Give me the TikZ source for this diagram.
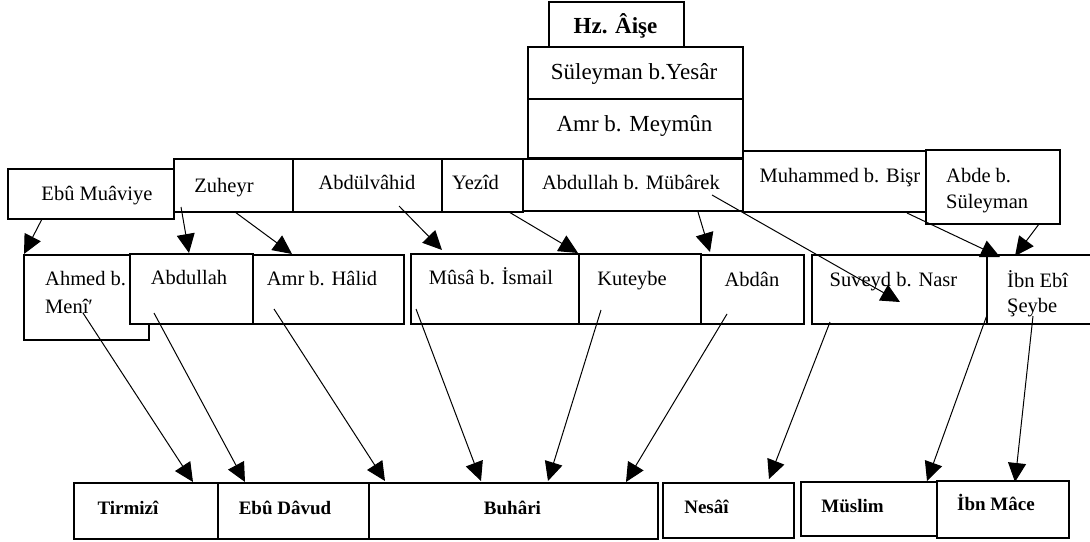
\documentclass[tikz,border=0pt]{standalone}
\usepackage{fontspec}
\setmainfont{Liberation Serif}
\usetikzlibrary{arrows.meta}
\tikzset{
  box/.style={draw, line width=1.8pt, fill=white, inner sep=0pt, anchor=north west},
  lbl/.style={inner sep=0pt, anchor=base, font=\fontsize{20.5}{27}\selectfont},
  lblL/.style={inner sep=0pt, anchor=base west, align=left},
  big/.style={inner sep=0pt, anchor=base, font=\fontsize{23}{28}\selectfont},
  bigb/.style={inner sep=0pt, anchor=base, font=\bfseries\fontsize{23}{28}\selectfont},
  bot/.style={inner sep=0pt, anchor=base, font=\bfseries\fontsize{19}{23}\selectfont},
  arr/.style={-{Triangle[length=19pt,width=18pt]}, line width=1pt},
}
\begin{document}
\begin{tikzpicture}[x=1pt,y=-1pt]
\useasboundingbox[fill=white] (0,0) rectangle (1090,541);

% top chain
\node[box, minimum width=135pt, minimum height=45pt] (hz) at (548,1) {};
\node[box, minimum width=215pt, minimum height=52pt] (suleyman) at (527,46) {};
\node[box, minimum width=215pt, minimum height=59pt] (amrm) at (527,98) {};

% row 2
\node[box, minimum width=166pt, minimum height=50pt] (ebu) at (7,168) {};
\node[box, minimum width=119pt, minimum height=53pt] (zuheyr) at (173,158) {};
\node[box, minimum width=149pt, minimum height=53pt] (abdulvahid) at (292,158) {};
\node[box, minimum width=81pt, minimum height=53pt] (yezid) at (441,158) {};
\node[box, minimum width=220pt, minimum height=52pt] (abdmub) at (522,158) {};
\node[box, minimum width=183pt, minimum height=61pt] (muhammed) at (742,150) {};
\node[box, minimum width=134pt, minimum height=74pt] (abde) at (925,149) {};

% row 3
\node[box, minimum width=125pt, minimum height=85pt] (ahmed) at (23,254) {};
\node[box, minimum width=123pt, minimum height=70pt] (abdullah) at (129,253) {};
\node[box, minimum width=151pt, minimum height=69pt] (amrh) at (252,254) {};
\node[box, minimum width=168pt, minimum height=70pt] (musa) at (410,253) {};
\node[box, minimum width=122pt, minimum height=70pt] (kuteybe) at (578,253) {};
\node[box, minimum width=103pt, minimum height=69pt] (abdan) at (700,254) {};
\node[box, minimum width=175pt, minimum height=69pt] (suveyd) at (811,254) {};
\node[box, minimum width=112pt, minimum height=69pt] (ibnebi) at (986,254) {};

% bottom row
\node[box, minimum width=144pt, minimum height=56pt] (tirmizi) at (73,482) {};
\node[box, minimum width=151pt, minimum height=56pt] (ebudavud) at (217,482) {};
\node[box, minimum width=289pt, minimum height=56pt] (buhari) at (368,482) {};
\node[box, minimum width=131pt, minimum height=55pt] (nesai) at (662,482) {};
\node[box, minimum width=136pt, minimum height=54pt] (muslim) at (800,481) {};
\node[box, minimum width=132pt, minimum height=57pt] (ibnmace) at (936,480) {};

% texts
\node[bigb] (hz-t) at (615.5,33) {Hz. Âişe};
\node[big] (suleyman-t) at (634,79.5) {Süleyman b.Yesâr};
\node[big] (amrm-t) at (634.5,131) {Amr b. Meymûn};

\node[lbl] (ebu-t) at (97,200) {Ebû Muâviye};
\node[lbl] (zuheyr-t) at (224,192) {Zuheyr};
\node[lbl] (abdulvahid-t) at (367,189) {Abdülvâhid};
\node[lbl] (yezid-t) at (475.5,189) {Yezîd};
\node[lbl] (abdmub-t) at (631,189) {Abdullah b. Mübârek};
\node[lbl] (muhammed-t) at (840,182) {Muhammed b. Bişr};
\node[lblL, font=\fontsize{20.5}{26}\selectfont] (abde-t) at (946,208) {Abde b.\\Süleyman};

\node[lblL, font=\fontsize{20.5}{28}\selectfont] (ahmed-t) at (45,313) {Ahmed b.\\Menî′};
\node[lbl] (abdullah-t) at (189,284) {Abdullah};
\node[lbl] (amrh-t) at (322,285) {Amr b. Hâlid};
\node[lbl] (musa-t) at (491,284) {Mûsâ b. İsmail};
\node[lbl] (kuteybe-t) at (632,285) {Kuteybe};
\node[lbl] (abdan-t) at (752,286) {Abdân};
\node[lbl] (suveyd-t) at (893.5,286) {Suveyd b. Nasr};
\node[lblL, font=\fontsize{20.5}{25}\selectfont] (ibnebi-t) at (1007,312) {İbn Ebî\\Şeybe};

\node[bot] (tirmizi-t) at (128,514) {Tirmizî};
\node[bot] (ebudavud-t) at (285,514) {Ebû Dâvud};
\node[bot] (buhari-t) at (512.5,514) {Buhâri};
\node[bot] (nesai-t) at (706.5,513) {Nesâî};
\node[bot] (muslim-t) at (852.5,512) {Müslim};
\node[bot] (ibnmace-t) at (996,510) {İbn Mâce};

% arrows row 2 -> row 3
\draw[arr] ([shift={(35,51)}]ebu.north west) -- ([shift={(1,0)}]ahmed.north west);
\draw[arr] ([shift={(8,49)}]zuheyr.north west) -- ([shift={(60,0)}]abdullah.north west);
\draw[arr] ([shift={(62,54)}]zuheyr.north west) -- ([shift={(40,0)}]amrh.north west);
\draw[arr] ([shift={(107,48)}]abdulvahid.north west) -- ([shift={(32,-3)}]musa.north west);
\draw[arr] ([shift={(68,54)}]yezid.north west) -- (kuteybe.north west);
\draw[arr] ([shift={(176,54)}]abdmub.north west) -- ([shift={(10,-2)}]abdan.north west);
\draw[arr] ([shift={(190,37)}]abdmub.north west) -- ([shift={(89,48)}]suveyd.north west);
\draw[arr] ([shift={(165,63)}]muhammed.north west) -- ([shift={(14,3)}]ibnebi.north west);
\draw[arr] ([shift={(114,75)}]abde.north west) -- ([shift={(29,2)}]ibnebi.north west);

% arrows row 3 -> bottom
\draw[arr] ([shift={(60,59)}]ahmed.north west) -- ([shift={(120,0)}]tirmizi.north west);
\draw[arr] ([shift={(25,60)}]abdullah.north west) -- ([shift={(28,0)}]ebudavud.north west);
\draw[arr] ([shift={(22,55)}]amrh.north west) -- ([shift={(17,-1)}]buhari.north west);
\draw[arr] ([shift={(6,56)}]musa.north west) -- ([shift={(113,-1)}]buhari.north west);
\draw[arr] ([shift={(23,57)}]kuteybe.north west) -- ([shift={(180,-1)}]buhari.north west);
\draw[arr] ([shift={(27,60)}]abdan.north west) -- ([shift={(258,0)}]buhari.north west);
\draw[arr] ([shift={(19,68)}]suveyd.north west) -- ([shift={(107,-3)}]nesai.north west);
\draw[arr] ([shift={(1,61)}]ibnebi.north west) -- ([shift={(127,0)}]muslim.north west);
\draw[arr] ([shift={(47,62)}]ibnebi.north west) -- ([shift={(79,2)}]ibnmace.north west);
\end{tikzpicture}
\end{document}
